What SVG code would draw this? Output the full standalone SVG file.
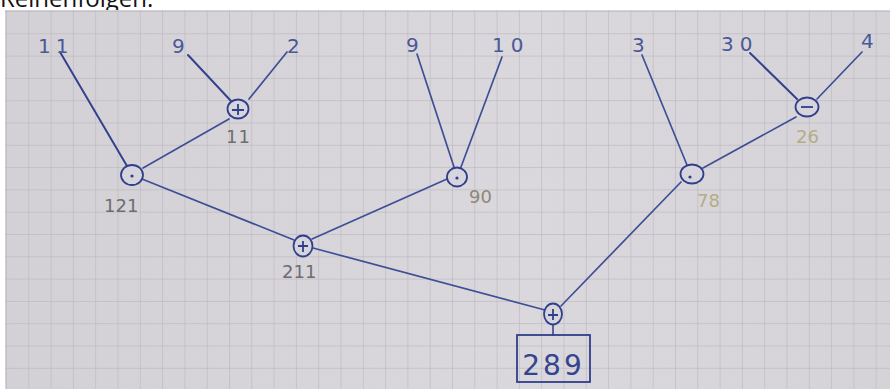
<svg xmlns="http://www.w3.org/2000/svg" width="890" height="389" viewBox="0 0 890 389">
<style>
.ink{stroke:#3f4f96;stroke-width:1.7;fill:none;stroke-linecap:round}
.dark{stroke:#33428c;stroke-width:2}
.op{stroke:#2f3f8a;stroke-width:1.8;fill:#d6d4dc}
.sym{stroke:#2f3f8a;stroke-width:1.8;fill:none}
.leaf{font-family:"DejaVu Sans",sans-serif;font-size:20px;fill:#4a5898}
.res{font-family:"DejaVu Sans",sans-serif;font-size:18px;fill:#6e6c70}
.pale{fill:#b3ad86}
.olive{fill:#8c8876}
</style>
<defs>
<pattern id="grid" x="6" y="11" width="22.3" height="22.3" patternUnits="userSpaceOnUse">
<path d="M0 0H22.3M0 0V22.3" stroke="#bdbac2" stroke-width="1.4" fill="none"/>
</pattern>
<linearGradient id="paper" x1="0" y1="0" x2="1" y2="0">
<stop offset="0" stop-color="#d4d1d6"/>
<stop offset="0.6" stop-color="#dbd8dd"/>
<stop offset="1" stop-color="#d6d3d8"/>
</linearGradient>
</defs>
<rect width="890" height="389" fill="#ffffff"/>
<text x="0" y="7" font-family="'Open Sans',sans-serif" font-size="24" fill="#111">Reihenfolgen:</text>
<rect x="5" y="10" width="885" height="379" fill="url(#paper)"/>
<rect x="5" y="10" width="885" height="379" fill="url(#grid)"/>
<g id="connectors">
<line class="ink dark" x1="60" y1="52" x2="127" y2="166"/>
<line class="ink dark" x1="188" y1="55" x2="231" y2="101"/>
<line class="ink" x1="287" y1="52" x2="249" y2="99"/>
<line class="ink" x1="143" y1="168" x2="229" y2="119"/>
<line class="ink" x1="142" y1="179" x2="294" y2="240"/>
<line class="ink" x1="417" y1="54" x2="454" y2="167"/>
<line class="ink" x1="502" y1="57" x2="461" y2="167"/>
<line class="ink" x1="447" y1="179" x2="312" y2="239"/>
<line class="ink" x1="313" y1="248" x2="545" y2="310"/>
<line class="ink" x1="642" y1="55" x2="687" y2="165"/>
<line class="ink dark" x1="750" y1="53" x2="797" y2="99"/>
<line class="ink" x1="862" y1="52" x2="817" y2="99"/>
<line class="ink" x1="703" y1="168" x2="796" y2="117"/>
<line class="ink" x1="681" y1="182" x2="561" y2="306"/>
<line class="ink" x1="553" y1="324" x2="553" y2="335"/>
</g>
<g id="leaf-11"><text class="leaf" x="38" y="53" letter-spacing="5">11</text></g>
<g id="leaf-9a"><text class="leaf" x="172" y="53">9</text></g>
<g id="leaf-2"><text class="leaf" x="287" y="53">2</text></g>
<g id="leaf-9b"><text class="leaf" x="406" y="52">9</text></g>
<g id="leaf-10"><text class="leaf" x="492" y="52" letter-spacing="6">10</text></g>
<g id="leaf-3"><text class="leaf" x="632" y="52">3</text></g>
<g id="leaf-30"><text class="leaf" x="721" y="51" letter-spacing="6">30</text></g>
<g id="leaf-4"><text class="leaf" x="861" y="48">4</text></g>
<g id="node-11">
<ellipse class="op" cx="238" cy="109" rx="10.5" ry="9.5"/>
<path class="sym" d="M232 110H244M238 104V115"/>
<text class="res" x="226" y="143" letter-spacing="1">11</text>
</g>
<g id="node-121">
<ellipse class="op" cx="132" cy="175" rx="11" ry="10"/>
<circle cx="132" cy="176" r="1.6" fill="#2f3f8a"/>
<text class="res" x="104" y="212">121</text>
</g>
<g id="node-90">
<ellipse class="op" cx="457" cy="177" rx="10" ry="9.5"/>
<circle cx="457" cy="178" r="1.6" fill="#2f3f8a"/>
<text class="res olive" x="469" y="203">90</text>
</g>
<g id="node-211">
<ellipse class="op" cx="303" cy="246" rx="9.5" ry="10.5"/>
<path class="sym" d="M298 246H308M303 241V252"/>
<text class="res" x="282" y="278">211</text>
</g>
<g id="node-26">
<ellipse class="op" cx="807" cy="107" rx="11.5" ry="9.5"/>
<path class="sym" d="M801 107H813" stroke-width="2.4"/>
<text class="res pale" x="796" y="143">26</text>
</g>
<g id="node-78">
<ellipse class="op" cx="692" cy="174" rx="11.5" ry="9.5"/>
<circle cx="690" cy="177" r="1.6" fill="#2f3f8a"/>
<text class="res pale" x="697" y="207">78</text>
</g>
<g id="node-root">
<ellipse class="op" cx="553" cy="314" rx="9" ry="10.5"/>
<path class="sym" d="M548 315H558M553 309V320"/>
</g>
<g id="result-289">
<rect x="517" y="335" width="73" height="47" fill="none" stroke="#2f3f8a" stroke-width="1.8"/>
<text x="553.5" y="375" text-anchor="middle" font-family="'DejaVu Sans',sans-serif" font-size="28" letter-spacing="3" fill="#34448e">289</text>
</g>
</svg>
